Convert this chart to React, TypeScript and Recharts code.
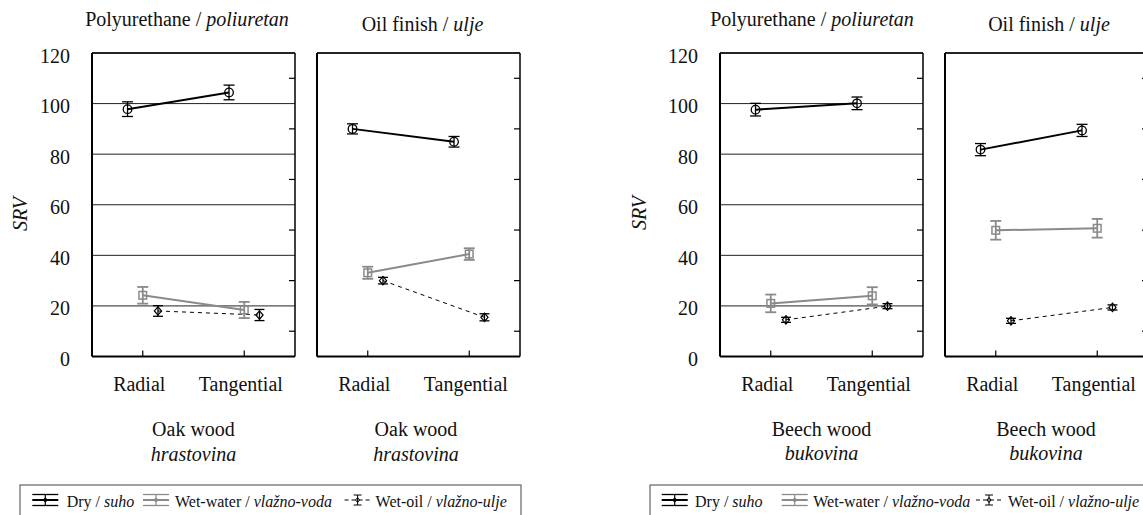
import React from 'react';
import { LineChart, Line, XAxis, YAxis, CartesianGrid, ErrorBar } from 'recharts';

// ---------- data ----------
const categories = ['Radial', 'Tangential'];
const yTicks = [0, 20, 40, 60, 80, 100, 120];
const minorTicks = [10, 30, 50, 70, 90, 110];

// Oak wood (hrastovina) – Polyurethane
const oakPolyDry = [97.8, 104.4];
const oakPolyDryErr = [2.9, 2.9];
const oakPolyWater = [24.2, 18.4];
const oakPolyWaterErr = [3.3, 3.2];
const oakPolyOil = [18.0, 16.4];
const oakPolyOilErr = [2.1, 2.2];

// Oak wood (hrastovina) – Oil finish
const oakOilDry = [90.0, 84.9];
const oakOilDryErr = [2.0, 2.1];
const oakOilWater = [33.1, 40.5];
const oakOilWaterErr = [2.4, 2.3];
const oakOilOil = [30.0, 15.5];
const oakOilOilErr = [1.3, 1.4];

// Beech wood (bukovina) – Polyurethane
const beechPolyDry = [97.6, 100.1];
const beechPolyDryErr = [2.5, 2.5];
const beechPolyWater = [21.0, 24.0];
const beechPolyWaterErr = [3.5, 3.4];
const beechPolyOil = [14.5, 19.9];
const beechPolyOilErr = [1.0, 1.0];

// Beech wood (bukovina) – Oil finish
const beechOilDry = [81.8, 89.4];
const beechOilDryErr = [2.4, 2.4];
const beechOilWater = [49.9, 50.7];
const beechOilWaterErr = [3.7, 3.7];
const beechOilOil = [14.1, 19.4];
const beechOilOilErr = [1.0, 1.0];

const legendLabels = [
  ['Dry', 'suho'],
  ['Wet-water', 'vlažno-voda'],
  ['Wet-oil', 'vlažno-ulje'],
];

// ---------- layout / style ----------
const FONT = 'Liberation Serif';
const PW = 203;
const PT = 53;
const PH = 303.5;
const ML = 80;
const MR = 20;
const CH = 420;
const GRAY = '#8a8a8a';
const DODGE = [-0.15, 0, 0.15];

function toPts(vals: number[], errs: number[], off: number) {
  return categories.map((c, i) => ({ cat: c, x: i + off, y: vals[i], e: errs[i] }));
}

const circleDot = (p: any) => (
  <circle key={`c${p.index}`} cx={p.cx} cy={p.cy} r={4.3} fill="none" stroke="#000" strokeWidth={1.3} />
);
const squareDot = (p: any) => (
  <rect key={`s${p.index}`} x={p.cx - 3.8} y={p.cy - 3.8} width={7.6} height={7.6} fill="none" stroke={GRAY} strokeWidth={1.5} />
);
const diamondDot = (p: any) => (
  <polygon
    key={`d${p.index}`}
    points={`${p.cx},${p.cy - 4.2} ${p.cx + 3.6},${p.cy} ${p.cx},${p.cy + 4.2} ${p.cx - 3.6},${p.cy}`}
    fill="none"
    stroke="#000"
    strokeWidth={1.2}
  />
);

const BottomTick = (p: any) => (
  <g>
    <line x1={p.x} x2={p.x} y1={p.y} y2={p.y - 6} stroke="#000" strokeWidth={1.2} />
    <text x={p.x - 3.5} y={p.y + 34} textAnchor="middle" fontSize={20} fontFamily={FONT} fill="#111">
      {categories[p.payload.value]}
    </text>
  </g>
);
const TopTick = (p: any) => (
  <line x1={p.x} x2={p.x} y1={p.y} y2={p.y + 6} stroke="#000" strokeWidth={1.2} />
);
const RightTick = (p: any) => (
  <line x1={p.x} x2={p.x - 6} y1={p.y} y2={p.y} stroke="#000" strokeWidth={1.2} />
);
const LeftTick = (p: any) => (
  <text x={p.x - 22} y={p.y + 9.5} textAnchor="end" fontSize={20} fontFamily={FONT} fill="#111">
    {p.payload.value}
  </text>
);

type PanelProps = {
  left: number;
  dry: number[];
  dryErr: number[];
  water: number[];
  waterErr: number[];
  oil: number[];
  oilErr: number[];
  showLabels: boolean;
};

function Panel({ left, dry, dryErr, water, waterErr, oil, oilErr, showLabels }: PanelProps) {
  return (
    <div style={{ position: 'absolute', left: left - ML, top: 0 }}>
      <LineChart
        width={ML + PW + MR}
        height={CH}
        margin={{ top: PT - 1, right: MR - 1, bottom: CH - PT - PH - 1, left: ML - 1 }}
      >
        <CartesianGrid vertical={false} stroke="#222" strokeWidth={1} />
        <XAxis
          type="number"
          dataKey="x"
          domain={[-0.5, 1.5]}
          ticks={[0, 1]}
          allowDataOverflow
          height={1}
          tickSize={0}
          tickMargin={0}
          tickLine={false}
          interval={0}
          axisLine={{ stroke: '#000', strokeWidth: 2 }}
          tick={BottomTick}
        />
        <XAxis
          xAxisId="top"
          orientation="top"
          type="number"
          domain={[-0.5, 1.5]}
          ticks={[0, 1]}
          allowDataOverflow
          height={1}
          tickSize={0}
          tickMargin={0}
          tickLine={false}
          interval={0}
          axisLine={{ stroke: '#000', strokeWidth: 1.5 }}
          tick={TopTick}
        />
        <YAxis
          type="number"
          domain={[0, 120]}
          ticks={yTicks}
          allowDataOverflow
          width={1}
          tickSize={0}
          tickMargin={0}
          tickLine={false}
          interval={0}
          axisLine={{ stroke: '#000', strokeWidth: 2 }}
          tick={showLabels ? LeftTick : false}
        />
        <YAxis
          yAxisId="right"
          orientation="right"
          type="number"
          domain={[0, 120]}
          ticks={minorTicks}
          allowDataOverflow
          width={1}
          tickSize={0}
          tickMargin={0}
          tickLine={false}
          interval={0}
          axisLine={{ stroke: '#000', strokeWidth: 1.5 }}
          tick={RightTick}
        />
        <Line
          data={toPts(water, waterErr, DODGE[1])}
          dataKey="y"
          stroke={GRAY}
          strokeWidth={2}
          dot={squareDot}
          activeDot={false}
          isAnimationActive={false}
        >
          <ErrorBar dataKey="e" width={5.5} stroke={GRAY} strokeWidth={1.8} direction="y" />
        </Line>
        <Line
          data={toPts(oil, oilErr, DODGE[2])}
          dataKey="y"
          stroke="#000"
          strokeWidth={1}
          strokeDasharray="4 4"
          dot={diamondDot}
          activeDot={false}
          isAnimationActive={false}
        >
          <ErrorBar dataKey="e" width={5} stroke="#000" strokeWidth={1.3} direction="y" />
        </Line>
        <Line
          data={toPts(dry, dryErr, DODGE[0])}
          dataKey="y"
          stroke="#000"
          strokeWidth={2}
          dot={circleDot}
          activeDot={false}
          isAnimationActive={false}
        >
          <ErrorBar dataKey="e" width={5.5} stroke="#000" strokeWidth={1.3} direction="y" />
        </Line>
      </LineChart>
    </div>
  );
}

function LegendIcon({ x, kind }: { x: number; kind: number }) {
  const cy = 500;
  const w = 26;
  const cx = x + w / 2;
  if (kind === 2) {
    return (
      <g stroke="#000" fill="none">
        <line x1={x} x2={x + w} y1={cy} y2={cy} strokeWidth={1} strokeDasharray="4 3" />
        <line x1={cx - 4} x2={cx + 4} y1={cy - 5} y2={cy - 5} strokeWidth={1} />
        <line x1={cx - 4} x2={cx + 4} y1={cy + 5} y2={cy + 5} strokeWidth={1} />
        <line x1={cx} x2={cx} y1={cy - 5} y2={cy + 5} strokeWidth={1} />
        <polygon points={`${cx},${cy - 2.5} ${cx + 2},${cy} ${cx},${cy + 2.5} ${cx - 2},${cy}`} strokeWidth={1} />
      </g>
    );
  }
  const col = kind === 0 ? '#000' : GRAY;
  return (
    <g stroke={col}>
      <line x1={x} x2={x + w} y1={cy} y2={cy} strokeWidth={2} />
      <line x1={x} x2={x + w} y1={cy - 5.5} y2={cy - 5.5} strokeWidth={1.3} />
      <line x1={x} x2={x + w} y1={cy + 5.5} y2={cy + 5.5} strokeWidth={1.3} />
      <line x1={cx} x2={cx} y1={cy - 5.5} y2={cy + 5.5} strokeWidth={1.2} />
      <circle cx={cx} cy={cy} r={1.6} fill={col} />
    </g>
  );
}

function LegendBox({ boxX, boxW, icons, texts }: { boxX: number; boxW: number; icons: number[]; texts: number[] }) {
  return (
    <g>
      <rect x={boxX} y={485} width={boxW} height={60} fill="none" stroke="#444" strokeWidth={1} />
      {legendLabels.map((l, i) => (
        <g key={i}>
          <LegendIcon x={icons[i]} kind={i} />
          <text x={texts[i]} y={506.5} fontSize={16} fontFamily={FONT} fill="#111">
            {l[0]} / <tspan fontStyle="italic">{l[1]}</tspan>
          </text>
        </g>
      ))}
    </g>
  );
}

function T(props: any) {
  const { children, italic, ...rest } = props;
  return (
    <text fontSize={20} fill="#111" fontFamily={FONT} fontStyle={italic ? 'italic' : 'normal'} {...rest}>
      {children}
    </text>
  );
}

function Overlay() {
  return (
    <svg width={1143} height={515} style={{ position: 'absolute', left: 0, top: 0, pointerEvents: 'none' }}>
      {/* titles */}
      <T x={187} y={26} textAnchor="middle">
        Polyurethane / <tspan fontStyle="italic">poliuretan</tspan>
      </T>
      <T x={422.5} y={31} textAnchor="middle">
        Oil finish / <tspan fontStyle="italic">ulje</tspan>
      </T>
      <T x={812} y={26} textAnchor="middle">
        Polyurethane / <tspan fontStyle="italic">poliuretan</tspan>
      </T>
      <T x={1049} y={31} textAnchor="middle">
        Oil finish / <tspan fontStyle="italic">ulje</tspan>
      </T>

      {/* y labels */}
      <T x={26.5} y={214} textAnchor="middle" italic transform="rotate(-90 26.5 214)">SRV</T>
      <T x={645.5} y={213} textAnchor="middle" italic transform="rotate(-90 645.5 213)">SRV</T>

      {/* group labels */}
      <T x={193.5} y={436} textAnchor="middle">Oak wood</T>
      <T x={193.5} y={461} textAnchor="middle" italic>hrastovina</T>
      <T x={416} y={436} textAnchor="middle">Oak wood</T>
      <T x={416} y={461} textAnchor="middle" italic>hrastovina</T>
      <T x={821.5} y={436} textAnchor="middle">Beech wood</T>
      <T x={821.5} y={460} textAnchor="middle" italic>bukovina</T>
      <T x={1046} y={436} textAnchor="middle">Beech wood</T>
      <T x={1046} y={460} textAnchor="middle" italic>bukovina</T>

      {/* legends */}
      <LegendBox boxX={20} boxW={501} icons={[32.3, 143, 344.6]} texts={[66.7, 175, 375.6]} />
      <LegendBox boxX={650} boxW={600} icons={[661.7, 781.7, 976]} texts={[695, 813.3, 1008]} />
    </svg>
  );
}

export default function App() {
  return (
    <div
      style={{
        position: 'fixed',
        left: 0,
        top: 0,
        width: 1143,
        height: 515,
        overflow: 'hidden',
        background: '#fff',
        fontFamily: FONT,
      }}
    >
      <Panel left={92} dry={oakPolyDry} dryErr={oakPolyDryErr} water={oakPolyWater} waterErr={oakPolyWaterErr} oil={oakPolyOil} oilErr={oakPolyOilErr} showLabels />
      <Panel left={317} dry={oakOilDry} dryErr={oakOilDryErr} water={oakOilWater} waterErr={oakOilWaterErr} oil={oakOilOil} oilErr={oakOilOilErr} showLabels={false} />
      <Panel left={720} dry={beechPolyDry} dryErr={beechPolyDryErr} water={beechPolyWater} waterErr={beechPolyWaterErr} oil={beechPolyOil} oilErr={beechPolyOilErr} showLabels />
      <Panel left={945} dry={beechOilDry} dryErr={beechOilDryErr} water={beechOilWater} waterErr={beechOilWaterErr} oil={beechOilOil} oilErr={beechOilOilErr} showLabels={false} />
      <Overlay />
    </div>
  );
}
